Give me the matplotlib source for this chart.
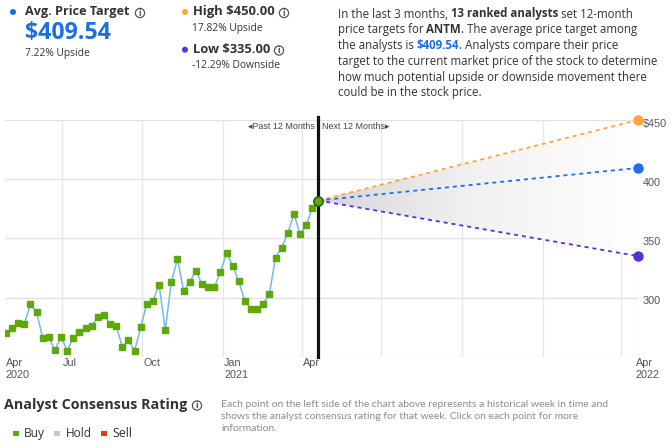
import matplotlib
matplotlib.use('Agg')
import matplotlib.pyplot as plt
import matplotlib.dates as mdates
import matplotlib.transforms as mtransforms
from matplotlib.colors import LinearSegmentedColormap
from matplotlib.patches import Circle, Rectangle
import numpy as np
import pandas as pd

plt.rcParams['font.family'] = ['Open Sans', 'DejaVu Sans']

# ---------------- data ----------------
history_values = [269.7, 273.9, 278.2, 277.3, 294.2, 287.7, 265.8, 266.3, 255.6, 266.9,
                  255.1, 266.1, 270.6, 274.2, 276.2, 283.2, 284.9, 277.3, 276.2, 258.2,
                  263.8, 255.1, 274.8, 294.8, 297.0, 310.8, 272.5, 313.1, 332.8, 305.5,
                  313.1, 322.7, 311.4, 308.6, 308.6, 321.3, 337.3, 326.9, 313.7, 297.0,
                  290.6, 290.6, 294.8, 303.2, 333.7, 342.1, 354.2, 370.8, 353.4, 361.0,
                  375.6, 381.96]
current_price = 381.96
avg_target = 409.54
high_target = 450.00
low_target = 335.00
last_date = '2021-04-20'
target_date = '2022-04-20'
hist_dates = pd.date_range(end=last_date, periods=len(history_values), freq='7D')

y_ticks = [300, 350, 400, 450]
y_tick_labels = ['300', '350', '400', '$450']
y_grid = [250, 300, 350, 400, 450]
x_grid_dates = ['2020-07-01', '2020-10-01', '2021-01-01', '2021-04-01', '2021-07-01',
                '2021-10-01', '2022-01-01', '2022-04-01', '2022-04-20']
x_tick_dates = ['2020-04-27', '2020-07-01', '2020-10-01', '2021-01-01', '2021-04-01', '2022-04-20']
x_tick_labels = ['Apr\n2020', 'Jul', 'Oct', 'Jan\n2021', 'Apr', 'Apr\n2022']

legend_labels = ['Buy', 'Hold', 'Sell']
legend_colors = ['#5ea80a', '#c8c8c8', '#e8380d']

# ---------------- figure ----------------
W, H = 672, 448
fig = plt.figure(figsize=(W / 100, H / 100), dpi=100)
renderer = fig.canvas.get_renderer()

ax = fig.add_axes([5 / W, 1 - 356.7 / H, 633 / W, 236.7 / H])
for s in ax.spines.values():
    s.set_visible(False)
ax.set_xticks([])
ax.set_yticks([])

x_left = hist_dates[0] - pd.Timedelta(days=1)
x_right = pd.Timestamp(target_date)

# grid
for g in y_grid:
    ax.axhline(g, color='#e2e2e2', lw=1.0, zorder=0)
for d in x_grid_dates:
    ax.axvline(pd.Timestamp(d), color='#e6e6e6', lw=1.0, zorder=0)

# gradient cone
x0 = mdates.date2num(pd.Timestamp(last_date))
x1 = mdates.date2num(x_right)
poly = ax.fill([x0, x1, x1, x0], [current_price, high_target, low_target, current_price],
               facecolor='none', edgecolor='none')[0]
cmap = LinearSegmentedColormap.from_list('g', ['#d6d6d6', '#f2f2f2', '#ffffff'])
grad = np.linspace(0, 1, 256).reshape(1, -1)
im = ax.imshow(grad, extent=[x0, x1, low_target, high_target], aspect='auto',
               cmap=cmap, zorder=1, interpolation='bilinear')
im.set_clip_path(poly)

# history
ax.plot(hist_dates, history_values, color='#74b8f5', lw=1.1, zorder=3)
ax.plot(hist_dates[:-1], history_values[:-1], ls='none', marker='s', ms=4.6,
        mfc='#5ea80a', mec='#5ea80a', zorder=4)

# vertical current line
ax.axvline(pd.Timestamp(last_date), ymin=0, ymax=1.012, color='#111111', lw=2.3,
           zorder=5, clip_on=False)

# projections
proj = [(high_target, '#ffa53a'), (avg_target, '#1a6ff0'), (low_target, '#5b2ed8')]
for val, col in proj:
    ax.plot([pd.Timestamp(last_date), x_right], [current_price, val], color=col, lw=1.3,
            ls=(0, (2.2, 2.2)), zorder=6)
    ax.plot([x_right], [val], marker='o', ms=6.5, mfc=col, mec=col, zorder=7, clip_on=False)

ax.plot([pd.Timestamp(last_date)], [current_price], marker='o', ms=6.8, mfc='#5ea80a',
        mec='#2d4d10', mew=1.0, zorder=8)

ax.set_xlim(x_left, x_right)
ax.set_ylim(250, 450)

# y tick labels
ytr = mtransforms.offset_copy(ax.get_yaxis_transform(), fig=fig, x=4.5, y=-3.5, units='dots')
for v, lab in zip(y_ticks, y_tick_labels):
    ax.text(1.0, v, lab, transform=ytr, ha='left', va='center', fontsize=7.8,
            color='#555555', family=['Liberation Sans', 'DejaVu Sans'])

# x tick labels
xtr = mtransforms.offset_copy(ax.get_xaxis_transform(), fig=fig, x=1, y=-1.5, units='dots')
for d, lab in zip(x_tick_dates, x_tick_labels):
    dx = 0
    if lab.endswith('2022'):
        dx = -3
    ax.text(pd.Timestamp(d), 0, lab, transform=mtransforms.offset_copy(xtr, fig=fig, x=dx, units='dots'),
            ha='left', va='top', fontsize=7.8, color='#555555', linespacing=1.25,
            family=['Liberation Sans', 'DejaVu Sans'])

# past / next labels (just under the top gridline)
ptr = mtransforms.offset_copy(ax.get_xaxis_transform(), fig=fig, x=-4, y=-6.5, units='dots')
ax.text(pd.Timestamp(last_date), 1.0, '\u25c2Past 12 Months', transform=ptr,
        ha='right', va='center', fontsize=6.4, color='#444444', family=['Liberation Sans', 'DejaVu Sans'])
ntr = mtransforms.offset_copy(ax.get_xaxis_transform(), fig=fig, x=4, y=-6.5, units='dots')
ax.text(pd.Timestamp(last_date), 1.0, 'Next 12 Months\u25b8', transform=ntr,
        ha='left', va='center', fontsize=6.4, color='#444444', family=['Liberation Sans', 'DejaVu Sans'])

# ---------------- header helpers ----------------
def ftext(x, y, s, **kw):
    return fig.text(x / W, 1 - y / H, s, **kw)

def text_width(t):
    return t.get_window_extent(renderer).width

def fit_text(x, y, s, width, **kw):
    t = ftext(x, y, s, fontsize=10, ha='left', va='center', **kw)
    w = text_width(t)
    t.set_fontsize(10 * width / w)
    return t

def dot(x, y, r, color):
    fig.patches.append(Circle((x / 100, (H - y) / 100), r / 100, transform=fig.dpi_scale_trans,
                              facecolor=color, edgecolor='none'))

def info(x, y):
    fig.patches.append(Circle((x / 100, (H - y) / 100), 4.6 / 100, transform=fig.dpi_scale_trans,
                              facecolor='none', edgecolor='#555555', lw=0.9))
    ftext(x, y + 0.3, 'i', fontsize=5.5, ha='center', va='center', color='#555555', fontweight='bold',
          family=['DejaVu Sans'])

DARK = '#333333'
BLUE = '#1a6fe8'

dot(13, 12, 3, BLUE)
fit_text(25, 12, 'Avg. Price Target', 105, fontweight='bold', color=DARK)
info(140, 13)
fit_text(25, 32.5, '$409.54', 86, fontweight='bold', color=BLUE)
fit_text(25, 53.3, '7.22% Upside', 65, color=DARK)

dot(185, 12, 3, '#ffa53a')
fit_text(193, 12, 'High $450.00', 82, fontweight='bold', color=DARK)
info(284, 13)
fit_text(192, 28.7, '17.82% Upside', 71, color=DARK)

dot(185, 49.7, 3, '#5b2ed8')
fit_text(193, 49.5, 'Low $335.00', 77, fontweight='bold', color=DARK)
info(279, 50.5)
fit_text(192, 65.3, '-12.29% Downside', 88, color=DARK)

# paragraph with rich segments
probe = ftext(0, 0, 'target to the current market price of the stock to determine',
              fontsize=10, ha='left', va='center')
pw = text_width(probe)
probe.remove()
para_fs = 10 * 319 / pw

def seg_width(s, weight):
    a = ftext(0, 0, s + '|', fontsize=para_fs, fontweight=weight)
    b = ftext(0, 0, '|', fontsize=para_fs, fontweight=weight)
    w = text_width(a) - text_width(b)
    a.remove(); b.remove()
    return w

para_lines = [
    [('In the last 3 months, ', 'normal', DARK), ('13 ranked analysts', 'bold', DARK), (' set 12-month', 'normal', DARK)],
    [('price targets for ', 'normal', DARK), ('ANTM', 'bold', DARK), ('. The average price target among', 'normal', DARK)],
    [('the analysts is ', 'normal', DARK), ('$409.54', 'bold', BLUE), ('. Analysts compare their price', 'normal', DARK)],
    [('target to the current market price of the stock to determine', 'normal', DARK)],
    [('how much potential upside or downside movement there', 'normal', DARK)],
    [('could be in the stock price.', 'normal', DARK)],
]
para_y = [14, 29.7, 45.3, 61.3, 77, 92.5]
for segs, yy in zip(para_lines, para_y):
    xx = 337.5
    for s, wt, col in segs:
        ftext(xx, yy, s, fontsize=para_fs, fontweight=wt, color=col, ha='left', va='center')
        xx += seg_width(s, wt)

# ---------------- bottom section ----------------
fit_text(4, 405, 'Analyst Consensus Rating', 183, fontweight='bold', color=DARK)
info(197, 405.5)

small_lines = ['Each point on the left side of the chart above represents a historical week in time and',
               'shows the analyst consensus rating for that week. Click on each point for more',
               'information.']
probe = ftext(0, 0, small_lines[0], fontsize=10, ha='left', va='center', family=['Lato', 'DejaVu Sans'])
sw = text_width(probe)
probe.remove()
small_fs = 10 * 390 / sw
for i, s in enumerate(small_lines):
    ftext(221, 404 + 12 * i, s, fontsize=small_fs, color='#8c8c8c', ha='left', va='center',
          family=['Lato', 'DejaVu Sans'])

leg_sq_x = [13, 54, 101]
leg_tx_x = [24, 66, 112]
leg_w = [21, 26, 20]
for sx, tx, lab, col, lw_ in zip(leg_sq_x, leg_tx_x, legend_labels, legend_colors, leg_w):
    fig.patches.append(Rectangle((sx / 100, (H - 436.3) / 100), 5.5 / 100, 5.5 / 100,
                                 transform=fig.dpi_scale_trans, facecolor=col, edgecolor='none'))
    fit_text(tx, 433.5, lab, lw_, color=DARK)

fig.savefig('out.png', dpi=100)
